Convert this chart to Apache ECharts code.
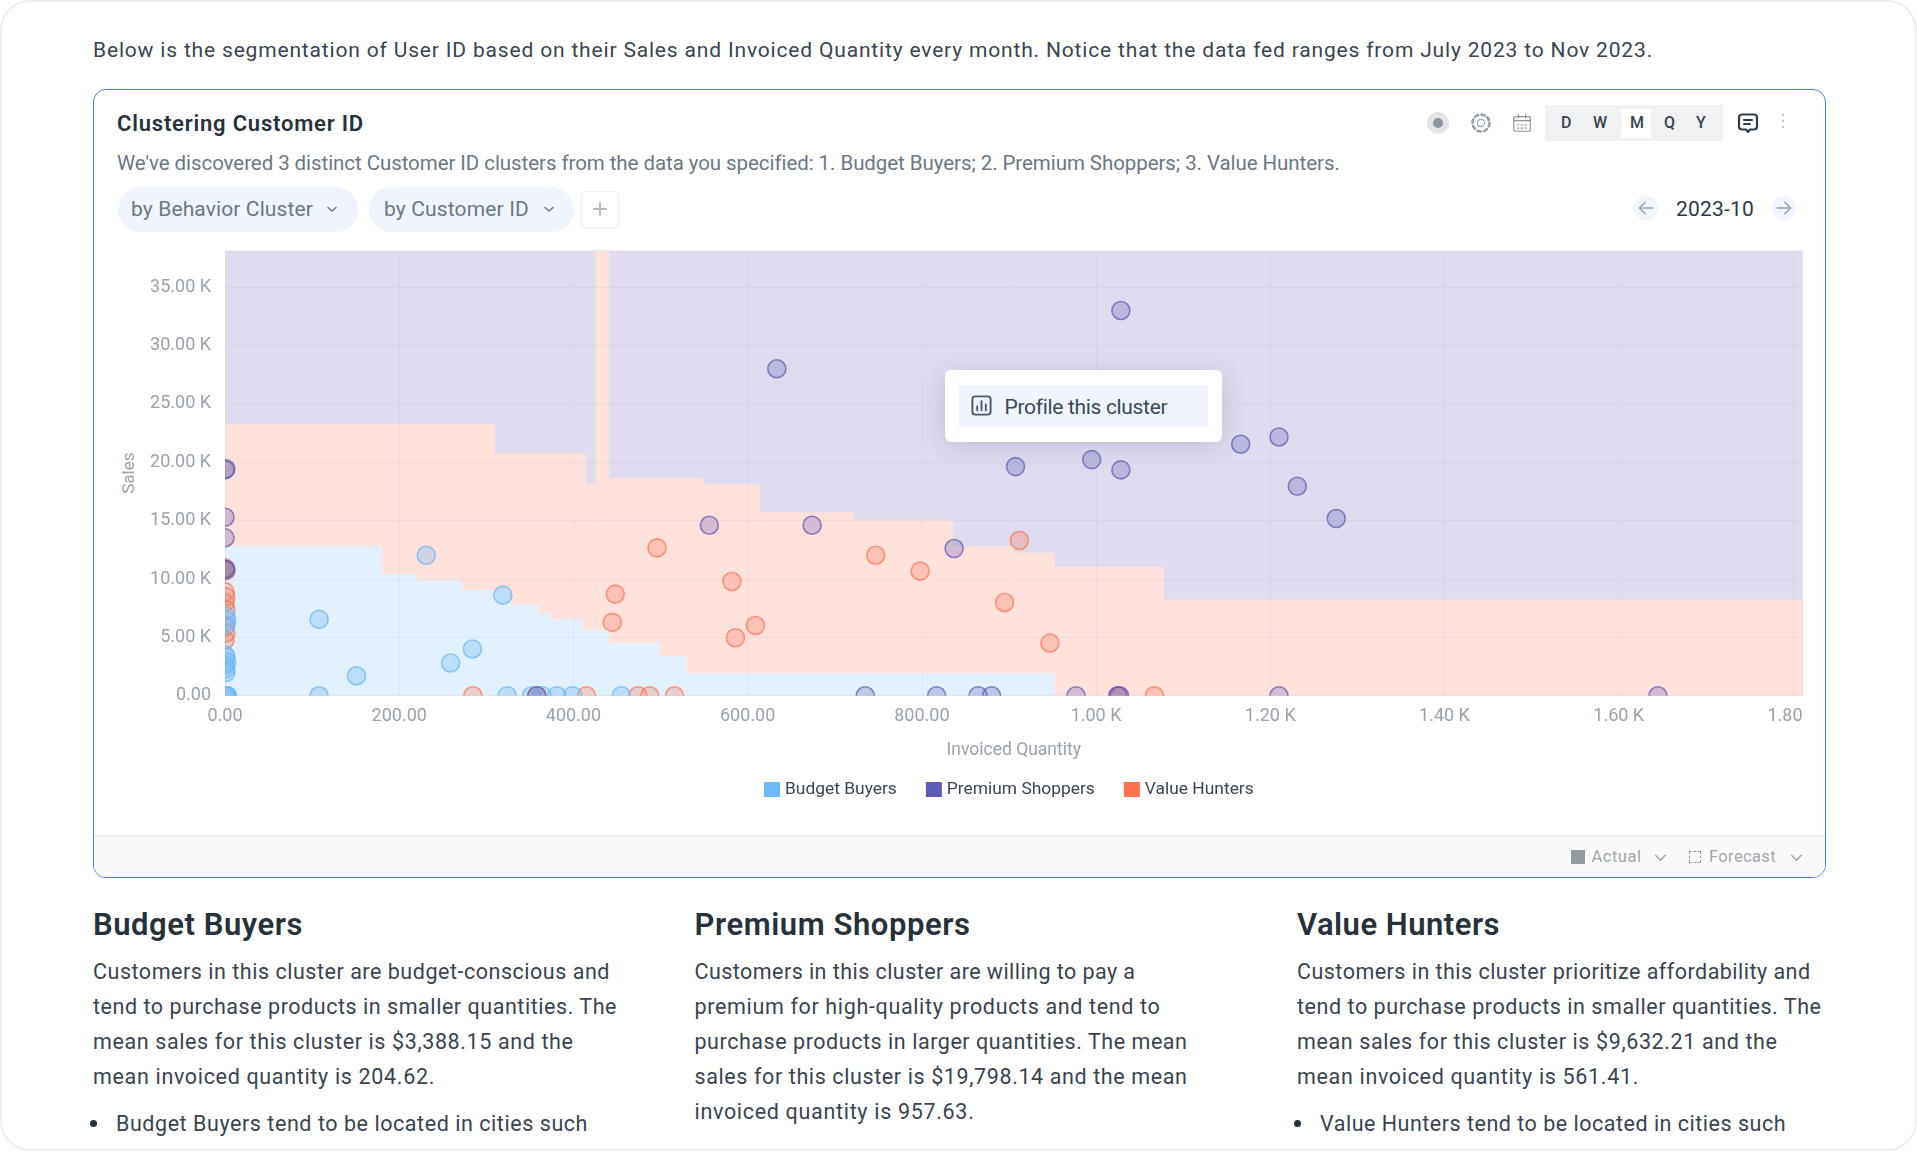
<!DOCTYPE html>
<html>
<head>
<meta charset="utf-8">
<title>Clustering Customer ID</title>
<script src="https://cdn.jsdelivr.net/npm/echarts@6/dist/echarts.min.js"></script>
<style>
html, body { margin: 0; padding: 0; background: #fff; width: 1917px; height: 1152px; overflow: hidden; }
body { font-family: Roboto, "Noto Sans", sans-serif; }
#frame { position: absolute; left: 0; top: 0; width: 1913px; height: 1147px; border: 2px solid #efeff1; border-radius: 30px; overflow: hidden; }
#card { position: absolute; left: 91px; top: 87px; width: 1730.5px; height: 787px; border: 1.5px solid #4a7de8; border-radius: 13px; overflow: hidden; }
#foot { position: absolute; left: 0; top: 745px; width: 1731px; height: 42px; background: #fafafa; border-top: 2px solid #f0f0f2; box-sizing: border-box; }
#chart { position: absolute; left: 91px; top: 238px; width: 1710px; height: 590px; }
.t { position: absolute; white-space: nowrap; line-height: 30px; height: 30px; color: #3a4450; font-size: 20px; }
.box { position: absolute; }
.ic { position: absolute; overflow: visible; fill: none; stroke-linecap: round; stroke-linejoin: round; }
</style>
</head>
<body>
<div id="frame">
  <div id="card"><div id="foot"></div></div>
  <div id="chart"></div>
</div>
<script>
// cluster regions: column edges on Invoiced Quantity, top of each column on Sales
var yMax = 38150;
var xMax = 1811;
var valueEdges = [0, 310, 414, 425.5, 441, 549, 614.6, 721, 836, 905, 952.5, 1078, 1811];
var valueTops = [23280, 20770, 18120, 38150, 18630, 18120, 15700, 15070, 12810, 12240, 11020, 8250];
var budgetEdges = [0, 180, 222, 272, 327, 360, 374, 410, 441, 499, 530, 952.5];
var budgetTops = [12840, 10420, 9900, 9050, 7790, 7100, 6560, 5620, 4540, 3400, 1940];

// [invoiced quantity, sales]
var budgetPoints = [[0,0],[1,0],[2,0],[3,0],[1,1990],[1,2320],[0,2630],[2,2900],[1,3340],[0,3500],[1,6050],[2,6420],[1,6800],
  [108,6540],[231,12040],[319,8620],[284,4000],[259,2800],[151,1712],[108,0],[324,0],[352,0],[364,0],[381,0],[399,0],[455,0]];
var premiumPoints = [[0,19350],[1,19450],[0,15290],[0,13530],[0,10840],[1,10800],[556,14610],[633.5,28020],[674,14610],[837,12610],
  [1028.5,33010],[907.6,19630],[995,20230],[1028.5,19350],[1166,21550],[1210,22170],[1231,17950],[1275.7,15180],
  [735,0],[817,0],[864.6,0],[880,0],[977,0],[1025,0],[1027,0],[1210,0],[1645,0],[358,0]];
var valuePoints = [[0,10950],[1,10700],[0,8900],[1,8470],[0,7960],[1,7340],[0,5900],[1,5370],[0,4770],[496,12670],[448,8705],[444.6,6280],
  [284.6,0],[358,0],[415,0],[474,0],[487.6,0],[516,0],[747,12040],[798,10675],[582,9790],[609,6020],[586,4965],[912,13300],[895,7990],[947,4510],[1025,0],[1067,0]];

var clusterNames = ['Budget Buyers', 'Premium Shoppers', 'Value Hunters'];

// [text, left, middle y, target width, font size, colour, weight]
var textRows = [
  ['Below is the segmentation of User ID based on their Sales and Invoiced Quantity every month. Notice that the data fed ranges from July 2023 to Nov 2023.', 93, 50, 1560, 21],
  ['Clustering Customer ID', 117, 124, 247, 22, '#27313b', 600],
  ["We've discovered 3 distinct Customer ID clusters from the data you specified: 1. Budget Buyers; 2. Premium Shoppers; 3. Value Hunters.", 117, 163, 1222, 20.5, '#6c7884'],
  ['by Behavior Cluster', 131, 209, 182, 21, '#6c7884'],
  ['by Customer ID', 384, 209, 145, 21, '#6c7884'],
  ['D', 1561, 123, 0, 16, '#3a4450', 500],
  ['W', 1593, 123, 0, 16, '#3a4450', 500],
  ['M', 1630, 123, 0, 16, '#3a4450', 500],
  ['Q', 1664, 123, 0, 16, '#3a4450', 500],
  ['Y', 1696, 123, 0, 16, '#3a4450', 500],
  ['2023-10', 1676, 208.5, 78, 21, '#2f3943'],
  ['Profile this cluster', 1004.5, 406.5, 162, 21, '#3a4a58'],
  ['Actual', 1591.5, 857, 50, 16.5, '#a0a8af'],
  ['Forecast', 1709, 857, 67, 16.5, '#a0a8af'],
  ['Budget Buyers', 93, 925, 210, 31, '#27313b', 600],
  ['Premium Shoppers', 694.5, 925, 276, 31, '#27313b', 600],
  ['Value Hunters', 1297, 925, 203, 31, '#27313b', 600],
  ['Customers in this cluster are budget-conscious and', 93, 972, 517, 21.5],
  ['tend to purchase products in smaller quantities. The', 93, 1007, 524, 21.5],
  ['mean sales for this cluster is $3,388.15 and the', 93, 1042, 480.5, 21.5],
  ['mean invoiced quantity is 204.62.', 93, 1077, 342, 21.5],
  ['Budget Buyers tend to be located in cities such', 116, 1124, 472, 21.5],
  ['Customers in this cluster are willing to pay a', 694.5, 972, 441, 21.5],
  ['premium for high-quality products and tend to', 694.5, 1007, 466, 21.5],
  ['purchase products in larger quantities. The mean', 694.5, 1042, 493, 21.5],
  ['sales for this cluster is $19,798.14 and the mean', 694.5, 1077, 493, 21.5],
  ['invoiced quantity is 957.63.', 694.5, 1112, 280, 21.5],
  ['Customers in this cluster prioritize affordability and', 1297, 972, 513.5, 21.5],
  ['tend to purchase products in smaller quantities. The', 1297, 1007, 524.5, 21.5],
  ['mean sales for this cluster is $9,632.21 and the', 1297, 1042, 480.5, 21.5],
  ['mean invoiced quantity is 561.41.', 1297, 1077, 342, 21.5],
  ['Value Hunters tend to be located in cities such', 1320, 1124, 466, 21.5]
];

// [left, top, width, height, background, radius, extra css]
var boxes = [
  [117.5, 187, 240, 45, '#eff4fd', 23],
  [368.5, 187, 205, 45, '#eff4fd', 23],
  [581, 191, 38, 37, '#fff', 5, 'border:1px solid #eeeff1;box-sizing:border-box;box-shadow:0 1px 2px rgba(0,0,0,.03);'],
  [1427, 112, 22, 22, '#e3e5e7', 11],
  [1433, 118, 10, 10, '#8d979f', 5],
  [1544.5, 105, 178.5, 36, '#f0f1f3', 0],
  [1621, 109, 30, 29, '#fff', 0],
  [1634, 196, 24, 24, '#eff4fd', 12],
  [1772, 196, 24, 24, '#eff4fd', 12],
  [944.5, 370, 277.5, 72, '#fff', 6, 'box-shadow:0 4px 24px rgba(60,60,110,.18);'],
  [959, 385, 249, 42, '#eff4fd', 0],
  [1570.5, 850, 14.5, 14, '#8f9aa2', 0],
  [1689, 851, 12, 12, '#fff', 0, 'border:1px dashed #8f9aa2;box-sizing:border-box;'],
  [90, 1120, 7, 7, '#27313b', 4],
  [1294, 1120, 7, 7, '#27313b', 4]
];

// [left, top, size, stroke, svg body] on a 24 box
var icons = [
  [326, 203, 12, '#6c7884', '<path d="M4 9l8 7 8-7" stroke-width="3"/>'],
  [542.5, 203, 12, '#6c7884', '<path d="M4 9l8 7 8-7" stroke-width="3"/>'],
  [592, 201, 16, '#b4bbc2', '<path d="M12 3v18M3 12h18" stroke-width="3"/>'],
  [1469, 111, 24, '#98a2ab', '<circle cx="12" cy="12" r="3.6" stroke-width="1.1"/><circle cx="12" cy="12" r="8.5" stroke-width="2.6" stroke-dasharray="3.4 3.3"/>'],
  [1511, 112, 22, '#8d979f', '<rect x="3" y="5" width="18" height="16" rx="1.5" stroke-width="1.3"/><path d="M3 9.5h18M8 2.5v4M16 2.5v4" stroke-width="1.3"/><path d="M7 14h10M7 17.5h10" stroke-width="1.3" stroke-dasharray="1.5 2.5"/>'],
  [1736, 111, 24, '#2f3d4a', '<path d="M6 3.5h12a3 3 0 0 1 3 3v9a3 3 0 0 1-3 3h-4l-2 2.5-2-2.5H6a3 3 0 0 1-3-3v-9a3 3 0 0 1 3-3z" stroke-width="2.2"/><path d="M8 9h8M8 13h6" stroke-width="2"/>'],
  [1775, 113, 16, '#c2c7cc', '<path d="M12 3v.1M12 12v.1M12 21v.1" stroke-width="3.4"/>'],
  [1636, 198, 20, '#98a2ab', '<path d="M20 12H4M11 5l-7 7 7 7" stroke-width="1.6"/>'],
  [1774, 198, 20, '#98a2ab', '<path d="M4 12h16M13 5l7 7-7 7" stroke-width="1.6"/>'],
  [970, 394, 23, '#4a5a68', '<rect x="2.5" y="2.5" width="19" height="19" rx="3" stroke-width="2"/><path d="M7.5 17v-4M12 17V7.5M16.5 17v-6" stroke-width="2"/>'],
  [1654, 851, 13, '#98a2ab', '<path d="M3 8l9 9 9-9" stroke-width="2.4"/>'],
  [1789.5, 851, 13, '#98a2ab', '<path d="M3 8l9 9 9-9" stroke-width="2.4"/>']
];

var frame = document.getElementById('frame');

boxes.forEach(function(b) {
  var el = document.createElement('div');
  el.className = 'box';
  el.style.cssText = 'left:' + (b[0] - 2) + 'px;top:' + (b[1] - 2) + 'px;width:' + b[2] + 'px;height:' + b[3] + 'px;background:' + b[4] + ';border-radius:' + b[5] + 'px;' + (b[6] || '');
  frame.appendChild(el);
});

icons.forEach(function(ic) {
  var wrap = document.createElement('div');
  wrap.innerHTML = '<svg class="ic" viewBox="0 0 24 24" width="' + ic[2] + '" height="' + ic[2] + '" stroke="' + ic[3] + '" style="left:' + (ic[0] - 2) + 'px;top:' + (ic[1] - 2) + 'px">' + ic[4] + '</svg>';
  frame.appendChild(wrap.firstChild);
});

textRows.forEach(function(r) {
  var el = document.createElement('div');
  el.className = 't';
  el.textContent = r[0];
  el.style.left = (r[1] - 2) + 'px';
  el.style.top = (r[2] - 17) + 'px';
  el.style.fontSize = r[4] + 'px';
  if (r[5]) el.style.color = r[5];
  if (r[6]) el.style.fontWeight = r[6];
  frame.appendChild(el);
  // the source font is not installed, so squeeze or stretch to the measured width
  if (r[3]) {
    var w = el.getBoundingClientRect().width;
    el.style.letterSpacing = ((r[3] - w) / r[0].length) + 'px';
  }
});

function columns(edges, tops) {
  return tops.map(function(top, i) {
    return [edges[i], edges[i + 1], 0, top];
  });
}

function renderRegion(params, api) {
  var a = api.coord([api.value(0), api.value(3)]);
  var b = api.coord([api.value(1), api.value(2)]);
  return {
    type: 'rect',
    shape: { x: a[0], y: a[1], width: b[0] - a[0], height: b[1] - a[1] },
    style: { fill: api.visual('color') }
  };
}

function region(id, color, data) {
  return {
    type: 'custom',
    name: id,
    z: 1,
    silent: true,
    clip: true,
    itemStyle: { color: color },
    encode: { x: [0, 1], y: [2, 3] },
    renderItem: renderRegion,
    data: data
  };
}

// custom instead of scatter: scatter only drops points outside the grid, the dots on the axes need cutting in half
function cluster(name, fill, edge, z, data) {
  return {
    type: 'custom',
    name: name,
    z: z,
    clip: true,
    itemStyle: { color: fill },
    encode: { x: 0, y: 1 },
    renderItem: function(params, api) {
      var p = api.coord([api.value(0), api.value(1)]);
      return {
        type: 'circle',
        shape: { cx: p[0], cy: p[1], r: 9 },
        style: { fill: fill, stroke: edge, lineWidth: 1.6 }
      };
    },
    data: data
  };
}

function fmt(v) {
  return v < 1000 ? v.toFixed(2) : (v / 1000).toFixed(2) + ' K';
}

var myChart = echarts.init(document.getElementById('chart'));
myChart.setOption({
  animation: false,
  textStyle: { fontFamily: 'Roboto' },
  grid: { left: 132, top: 10.5, width: 1577.5, height: 445.2, outerBoundsMode: 'none' },
  legend: {
    left: 666,
    top: 536,
    itemWidth: 16,
    itemHeight: 15,
    itemGap: 29,
    icon: 'rect',
    selectedMode: false,
    textStyle: { color: '#3c4650', fontSize: 17.4 },
    data: [
      { name: clusterNames[0], itemStyle: { color: '#6db9f9', opacity: 1 } },
      { name: clusterNames[1], itemStyle: { color: '#5e5ab5', opacity: 1 } },
      { name: clusterNames[2], itemStyle: { color: '#ff7350', opacity: 1 } }
    ]
  },
  xAxis: {
    type: 'value',
    min: 0,
    max: xMax,
    interval: 200,
    z: 3,
    name: 'Invoiced Quantity',
    nameLocation: 'middle',
    nameGap: 46,
    nameTextStyle: { color: '#9aa3ab', fontSize: 17.5 },
    axisLine: { show: false },
    axisTick: { show: false },
    axisLabel: { color: '#9aa3ab', fontSize: 18, margin: 12, showMaxLabel: false, formatter: fmt },
    splitLine: { show: true, lineStyle: { color: 'rgba(80,80,120,0.05)' } }
  },
  yAxis: {
    type: 'value',
    min: 0,
    max: yMax,
    interval: 5000,
    z: 3,
    name: 'Sales',
    nameLocation: 'middle',
    nameGap: 87,
    nameTextStyle: { color: '#9aa3ab', fontSize: 17 },
    axisLine: { show: false },
    axisTick: { show: false },
    axisLabel: { color: '#9aa3ab', fontSize: 18, margin: 14, showMaxLabel: false, formatter: fmt },
    splitLine: { show: true, lineStyle: { color: 'rgba(80,80,120,0.05)' } }
  },
  series: [
    region('premium region', '#dedcee', [[0, xMax, 0, yMax]]),
    region('value region', '#ffe1db', columns(valueEdges, valueTops)),
    region('budget region', '#e1f0fc', columns(budgetEdges, budgetTops)),
    cluster(clusterNames[2], 'rgba(255,115,80,0.27)', 'rgba(255,115,80,0.7)', 4, valuePoints),
    cluster(clusterNames[0], 'rgba(109,185,249,0.32)', 'rgba(109,185,249,0.75)', 5, budgetPoints),
    cluster(clusterNames[1], 'rgba(94,90,181,0.28)', 'rgba(94,90,181,0.7)', 6, premiumPoints)
  ]
});
</script>
</body>
</html>
